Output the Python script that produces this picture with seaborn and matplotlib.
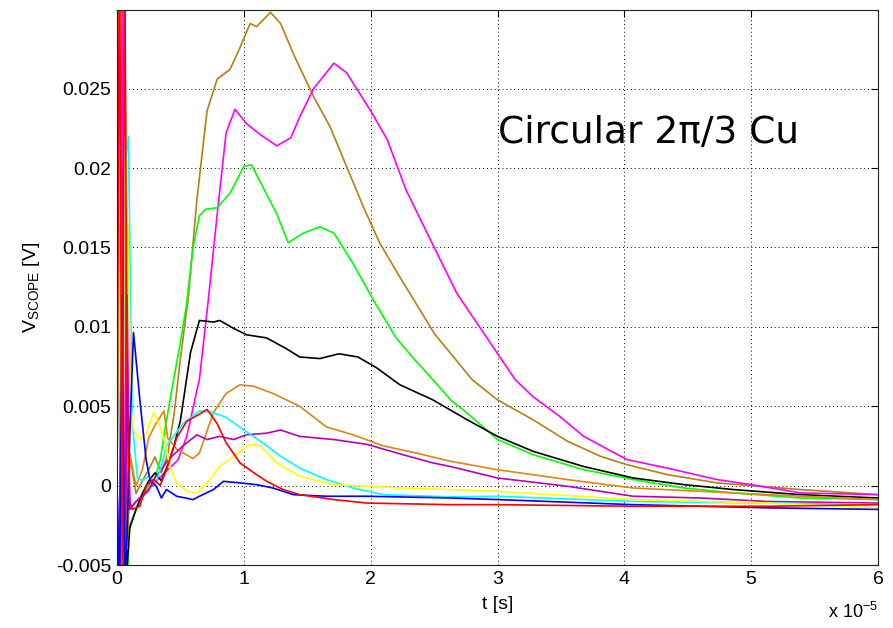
import numpy as np
import pandas as pd
import matplotlib
matplotlib.use("Agg")
import matplotlib.pyplot as plt
import seaborn as sns

# Scope traces: time in units of 1e-5 s, voltage in mV
gold_t = [0.0, 0.02, 0.04, 0.06, 0.08, 0.1, 0.15, 0.2, 0.25, 0.3, 0.35, 0.4, 0.45, 0.5, 0.56,
          0.63, 0.71, 0.79, 0.89, 0.96, 1.05, 1.1, 1.21, 1.29, 1.39, 1.55, 1.68, 1.81, 1.94,
          2.07, 2.21, 2.34, 2.5, 2.8, 3.0, 3.28, 3.55, 3.81, 4.02, 4.34, 4.73, 5.0, 5.39, 6.0]
gold_v = [0.0, 40, -9, 38, -7, 2.0, -0.5, 0.3, 1.0, 1.8, 0.8, 2.0, 4.5, 8.0, 11.7,
          18.0, 23.6, 25.6, 26.2, 27.4, 29.1, 28.9, 29.8, 29.1, 27.2, 24.5, 22.6, 20.1, 17.6,
          15.3, 13.4, 11.7, 9.6, 6.67, 5.4, 4.15, 2.8, 1.85, 1.32, 0.69, 0.17, 0.0, -0.25, -0.57]

magenta_t = [0.0, 0.02, 0.04, 0.06, 0.08, 0.1, 0.15, 0.2, 0.25, 0.3, 0.35, 0.4, 0.48, 0.55,
             0.65, 0.72, 0.79, 0.86, 0.93, 1.02, 1.13, 1.26, 1.37, 1.44, 1.55, 1.71, 1.81,
             2.0, 2.13, 2.28, 2.47, 2.68, 2.9, 3.14, 3.28, 3.49, 3.68, 4.02, 4.34, 4.73,
             5.0, 5.39, 6.0]
magenta_v = [0.0, -9, 30, -8, 12, -1.5, -1.0, -0.6, -0.2, 0.2, 0.6, 1.0, 1.6, 3.1,
             6.7, 11.7, 17.1, 22.2, 23.7, 22.8, 22.1, 21.4, 21.9, 23.2, 25.0, 26.6, 26.0,
             23.6, 21.8, 18.6, 15.5, 12.1, 9.5, 6.67, 5.6, 4.36, 3.1, 1.64, 1.1, 0.38,
             0.06, -0.46, -0.57]

green_t = [0.0, 0.02, 0.04, 0.06, 0.08, 0.1, 0.15, 0.2, 0.25, 0.3, 0.34, 0.39, 0.44, 0.5,
           0.55, 0.6, 0.65, 0.7, 0.79, 0.89, 1.0, 1.06, 1.15, 1.26, 1.35, 1.47, 1.6, 1.71,
           1.86, 2.02, 2.2, 2.35, 2.49, 2.63, 2.76, 3.0, 3.28, 3.68, 4.07, 4.47, 4.86,
           5.39, 6.0]
green_v = [0.0, 35, -7, 28, -6, -2.5, -1.5, -0.6, 0.0, 0.5, 1.6, 4.1, 6.4, 9.0,
           11.5, 15.0, 17.0, 17.4, 17.5, 18.4, 20.1, 20.2, 18.8, 17.1, 15.3, 15.9, 16.3, 15.9,
           14.0, 11.7, 9.3, 7.9, 6.67, 5.4, 4.57, 2.9, 1.95, 1.0, 0.38, -0.15, -0.46,
           -0.78, -0.88]

black_t = [0.0, 0.02, 0.04, 0.06, 0.08, 0.1, 0.15, 0.2, 0.25, 0.3, 0.35, 0.4, 0.45, 0.5,
           0.58, 0.65, 0.76, 0.81, 0.92, 1.02, 1.18, 1.34, 1.44, 1.6, 1.75, 1.9, 2.05,
           2.23, 2.49, 2.76, 3.0, 3.28, 3.68, 4.07, 4.47, 4.86, 5.39, 6.0]
black_v = [0.0, 32, -8, 25, -5, -2.7, -1.5, -0.5, 0.3, 0.8, 0.3, 1.3, 2.5, 4.1,
           8.4, 10.4, 10.3, 10.4, 9.9, 9.5, 9.3, 8.6, 8.1, 8.0, 8.3, 8.1, 7.4,
           6.35, 5.4, 4.15, 3.1, 2.16, 1.2, 0.48, 0.06, -0.25, -0.57, -0.78]

orange_t = [0.0, 0.02, 0.04, 0.06, 0.08, 0.1, 0.15, 0.2, 0.25, 0.3, 0.37, 0.4, 0.47, 0.6,
            0.65, 0.76, 0.86, 0.97, 1.08, 1.23, 1.44, 1.65, 1.86, 2.1, 2.36, 2.63, 3.0,
            3.55, 4.07, 4.6, 5.13, 6.0]
orange_v = [0.0, 38, -6, 33, -4, 2.0, 0.0, 1.0, 3.0, 3.8, 4.7, 3.0, 2.3, 1.7,
            2.05, 4.6, 5.8, 6.35, 6.25, 5.8, 5.0, 3.7, 3.2, 2.5, 2.05, 1.53, 1.0,
            0.38, -0.15, -0.36, -0.57, -0.88]

purple_t = [0.0, 0.02, 0.04, 0.06, 0.08, 0.1, 0.15, 0.2, 0.25, 0.3, 0.35, 0.4, 0.52, 0.63,
            0.71, 0.81, 0.92, 1.02, 1.18, 1.29, 1.44, 1.71, 1.97, 2.23, 2.49, 2.63, 3.0,
            3.55, 4.07, 4.6, 5.13, 6.0]
purple_v = [0.0, -8, 20, -9, 8, -1.5, -1.0, -0.7, -0.3, 0.5, 1.0, 1.6, 2.5, 3.2,
            2.9, 3.1, 2.9, 3.2, 3.3, 3.5, 3.1, 2.9, 2.6, 2.0, 1.43, 1.2, 0.48,
            -0.04, -0.67, -0.78, -1.0, -1.1]

cyan_t = [0.0, 0.02, 0.04, 0.06, 0.09, 0.12, 0.16, 0.2, 0.25, 0.3, 0.35, 0.39, 0.52, 0.65,
          0.76, 0.86, 1.0, 1.13, 1.29, 1.44, 1.65, 1.86, 2.1, 2.63, 3.0, 4.07, 5.13, 6.0]
cyan_v = [0.0, 26, -6, 20, 22, 4.0, 0.5, 0.3, 0.6, 0.0, 1.2, 2.5, 3.9, 4.7,
          4.6, 4.3, 3.5, 2.8, 1.85, 1.1, 0.38, -0.15, -0.57, -0.71, -0.67, -1.0, -1.1, -1.2]

yellow_t = [0.0, 0.02, 0.04, 0.06, 0.09, 0.11, 0.13, 0.18, 0.23, 0.29, 0.33, 0.37, 0.42, 0.47,
            0.55, 0.63, 0.71, 0.81, 0.92, 1.05, 1.13, 1.26, 1.44, 1.71, 1.97, 2.23, 2.63,
            3.0, 4.07, 5.13, 6.0]
yellow_v = [0.0, 30, -7, 22, 15, 5.0, 3.5, 2.9, 3.3, 4.6, 3.9, 3.0, 1.1, 0.17,
            -0.36, -0.46, 0.17, 1.2, 1.85, 2.6, 2.5, 1.43, 0.59, 0.06, -0.04, -0.15, -0.25,
            -0.36, -0.88, -1.1, -1.4]

blue_t = [0.0, 0.02, 0.04, 0.06, 0.08, 0.1, 0.13, 0.18, 0.23, 0.26, 0.29, 0.31, 0.35, 0.39,
          0.47, 0.6, 0.65, 0.76, 0.84, 0.97, 1.1, 1.23, 1.39, 1.65, 1.97, 2.63, 3.0, 4.07,
          5.13, 6.0]
blue_v = [0.0, -7, 12, -6, -3, 3.0, 9.65, 5.4, 1.6, 0.38, 0.1, -0.04, -0.78, -0.25,
          -0.67, -0.88, -0.67, -0.25, 0.27, 0.17, 0.06, -0.15, -0.57, -0.67, -0.67, -0.78,
          -0.88, -1.2, -1.4, -1.5]

red_t = [0.0, 0.02, 0.04, 0.06, 0.08, 0.1, 0.12, 0.18, 0.23, 0.29, 0.34, 0.39, 0.47, 0.55,
         0.65, 0.71, 0.79, 0.86, 0.97, 1.08, 1.18, 1.31, 1.44, 1.71, 1.97, 2.63, 3.0, 4.07,
         5.13, 6.0]
red_v = [0.0, 36, -5, 34, 6, -1.0, -1.5, -1.3, 0.0, 0.4, 0.0, 1.0, 3.0, 4.05,
         4.5, 4.8, 3.9, 2.7, 1.43, 0.8, 0.27, -0.25, -0.57, -0.88, -1.1, -1.2, -1.2, -1.3,
         -1.3, -1.2]

traces = {
    "gold": (gold_t, gold_v),
    "magenta": (magenta_t, magenta_v),
    "green": (green_t, green_v),
    "black": (black_t, black_v),
    "orange": (orange_t, orange_v),
    "purple": (purple_t, purple_v),
    "cyan": (cyan_t, cyan_v),
    "yellow": (yellow_t, yellow_v),
    "blue": (blue_t, blue_v),
    "red": (red_t, red_v),
}
colors = {
    "gold": "#B5800F",
    "magenta": "#FF00FF",
    "green": "#00FF00",
    "black": "#000000",
    "orange": "#DC8614",
    "purple": "#BB00BB",
    "cyan": "#00FFFF",
    "yellow": "#FFFF00",
    "blue": "#0000FF",
    "red": "#FF0000",
}

frames = []
for name, (t, v) in traces.items():
    frames.append(pd.DataFrame({"t": t, "V": np.asarray(v) * 1e-3, "trace": name}))
df = pd.concat(frames, ignore_index=True)

sns.set_theme(style="white")
plt.rcParams["font.family"] = ["Liberation Sans", "DejaVu Sans"]
plt.rcParams["mathtext.default"] = "regular"
plt.rcParams["text.color"] = "black"
plt.rcParams["axes.labelcolor"] = "black"
plt.rcParams["xtick.color"] = "black"
plt.rcParams["ytick.color"] = "black"

fig = plt.figure(figsize=(8.93, 6.28), dpi=100)
ax = fig.add_axes([117 / 893, 1 - 565 / 628, (878 - 117) / 893, (565 - 10) / 628])

sns.lineplot(data=df, x="t", y="V", hue="trace", palette=colors,
             hue_order=list(traces.keys()), estimator=None, sort=False,
             linewidth=1.2, legend=False, ax=ax)

ax.set_xlim(0, 6)
ax.set_ylim(-0.005, 0.02995)
ax.set_xticks(range(7))
ax.set_xticklabels([str(i) for i in range(7)])
yt = [-0.005, 0.0, 0.005, 0.01, 0.015, 0.02, 0.025]
ax.set_yticks(yt)
ax.set_yticklabels(["-0.005", "0", "0.005", "0.01", "0.015", "0.02", "0.025"])

ax.grid(True, linestyle=(0, (1, 3)), color="black", linewidth=0.7)
ax.tick_params(direction="in", length=5, width=0.8, top=True, right=True,
               labelsize=14, colors="black", pad=4)
for s in ax.spines.values():
    s.set_color("#222222")
    s.set_linewidth(0.8)

ax.set_xlabel("t [s]", fontsize=14, labelpad=6)
ax.set_ylabel("V$_{SCOPE}$ [V]", fontsize=14, labelpad=10)

fig.text(828 / 893, 1 - 612 / 628, "x 10$^{-5}$", fontsize=13, va="center", ha="left")

ax.text(3.0, 0.0222, "Circular 2π/3 Cu", fontsize=27, family="DejaVu Sans",
        color="black", ha="left", va="center")

fig.savefig("out.png", dpi=100)
